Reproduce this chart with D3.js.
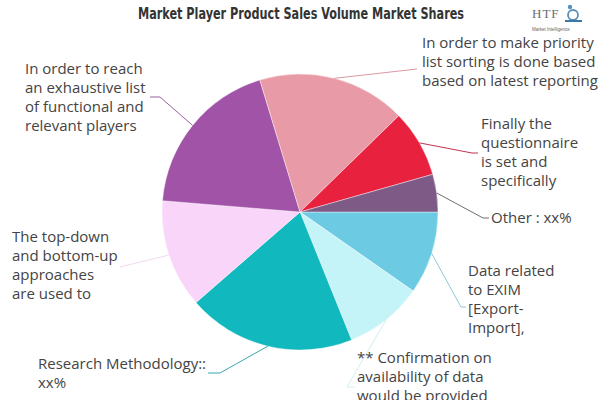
<!DOCTYPE html>
<html>
<head>
<meta charset="utf-8">
<script src="https://cdn.jsdelivr.net/npm/d3@7"></script>
<style>
  html, body { margin: 0; padding: 0; background: #fff; }
  svg { display: block; }
</style>
</head>
<body>
<div id="chart"></div>
<script>
// Slice labels, in drawing order (clockwise from 3 o'clock)
const categories = [
  "Data related to EXIM [Export-Import],",
  "** Confirmation on availability of data would be provided",
  "Research Methodology:: xx%",
  "The top-down and bottom-up approaches are used to",
  "In order to reach an exhaustive list of functional and relevant players",
  "In order to make priority list sorting is done based on revenue generated based on latest reporting",
  "Finally the questionnaire is set and specifically",
  "Other : xx%"
];
// Share of each slice (%)
const shares = [9.7, 9.2, 19.7, 12.7, 19.0, 17.4, 7.9, 4.4];
// Wrapped label lines for each slice
const labelLines = [
  ["Data related", "to EXIM", "[Export-", "Import],"],
  ["** Confirmation on", "availability of data", "would be provided"],
  ["Research Methodology::", "xx%"],
  ["The top-down", "and bottom-up", "approaches", "are used to"],
  ["In order to reach", "an exhaustive list", "of functional and", "relevant players"],
  ["In order to make priority", "list sorting is done based", "based on latest reporting"],
  ["Finally the", "questionnaire", "is set and", "specifically"],
  ["Other : xx%"]
];
const colors = ["#6ccae3", "#c5f4f8", "#11b8bd", "#f9d6f9", "#a153a7", "#e89ba6", "#e8213f", "#7e5b87"];
const lineColors = ["#8fc7d6", "#d4eef2", "#3aa7ab", "#f3d9f2", "#9a5fa0", "#d79aa4", "#c2364f", "#6f6f6f"];

const W = 600, H = 400;
const cx = 300, cy = 212, R = 138;

// Label layout: text anchor (x of first char, y of first line centre) and leader path bends
const labelLayout = [
  { tx: 468, ty: 270, bend: [[461, 307], [466, 307]] },
  { tx: 357, ty: 357, bend: [[347, 387], [355, 387]] },
  { tx: 38,  ty: 363, bend: [[220, 373], [208, 373]] },
  { tx: 12,  ty: 236, bend: [[120, 267]] },
  { tx: 25,  ty: 68,  bend: [[160, 97], [150, 97]] },
  { tx: 422, ty: 42,  bend: [[417, 69]] },
  { tx: 481, ty: 123, bend: [[472, 153], [478, 153]] },
  { tx: 491, ty: 217, bend: [[483, 218], [489, 218]] }
];

const svg = d3.select("#chart").append("svg")
  .attr("width", W).attr("height", H);

// Title
svg.append("text")
  .attr("x", 301).attr("y", 19)
  .attr("text-anchor", "middle")
  .attr("font-family", "'Liberation Sans Narrow', 'DejaVu Sans Condensed', 'Liberation Sans', sans-serif")
  .attr("font-weight", "bold")
  .attr("font-size", 16)
  .attr("fill", "#333")
  .attr("textLength", 326)
  .attr("lengthAdjust", "spacingAndGlyphs")
  .text("Market Player Product Sales Volume Market Shares");

// Logo
const logo = svg.append("g");
logo.append("text")
  .attr("x", 532).attr("y", 18)
  .attr("font-family", "'Liberation Serif', serif")
  .attr("font-size", 13)
  .attr("letter-spacing", 1)
  .attr("fill", "#6b6b6b")
  .text("HTF");
logo.append("circle").attr("cx", 573).attr("cy", 15).attr("r", 5)
  .attr("fill", "none").attr("stroke", "#5b8fb8").attr("stroke-width", 1.8);
logo.append("circle").attr("cx", 570).attr("cy", 7).attr("r", 2.2).attr("fill", "#5b8fb8");
logo.append("path").attr("d", "M565,21 L582,21").attr("stroke", "#3a78a8").attr("stroke-width", 2);
logo.append("text")
  .attr("x", 532).attr("y", 31)
  .attr("font-family", "'Liberation Sans', sans-serif")
  .attr("font-size", 4.5)
  .attr("fill", "#666")
  .text("Market Intelligence");

// Pie
const pie = d3.pie().sort(null)
  .startAngle(Math.PI / 2)
  .endAngle(Math.PI / 2 + 2 * Math.PI);
const arcs = pie(shares);
const arc = d3.arc().innerRadius(0).outerRadius(R);

const g = svg.append("g").attr("transform", `translate(${cx},${cy})`);
g.selectAll("path.slice")
  .data(arcs)
  .join("path")
  .attr("class", "slice")
  .attr("d", arc)
  .attr("fill", (d, i) => colors[i])
  .attr("stroke", "#fff")
  .attr("stroke-width", 0.4);

// Leader lines from the slice edge at mid-angle
const line = d3.line();
svg.selectAll("path.leader")
  .data(arcs)
  .join("path")
  .attr("class", "leader")
  .attr("fill", "none")
  .attr("stroke", (d, i) => lineColors[i])
  .attr("stroke-width", 1)
  .attr("d", (d, i) => {
    const a = (d.startAngle + d.endAngle) / 2;
    const p0 = [cx + R * Math.sin(a), cy - R * Math.cos(a)];
    return line([p0, ...labelLayout[i].bend]);
  });

// Labels
const lab = svg.selectAll("text.label")
  .data(arcs)
  .join("text")
  .attr("class", "label")
  .attr("font-family", "'Open Sans', 'DejaVu Sans', sans-serif")
  .attr("font-size", 15)
  .attr("fill", "#444")
  .attr("dominant-baseline", "central");
lab.each(function (d, i) {
  const L = labelLayout[i];
  d3.select(this).selectAll("tspan")
    .data(labelLines[i])
    .join("tspan")
    .attr("x", L.tx)
    .attr("y", (s, j) => L.ty + j * 19)
    .text(s => s);
});
</script>
</body>
</html>
